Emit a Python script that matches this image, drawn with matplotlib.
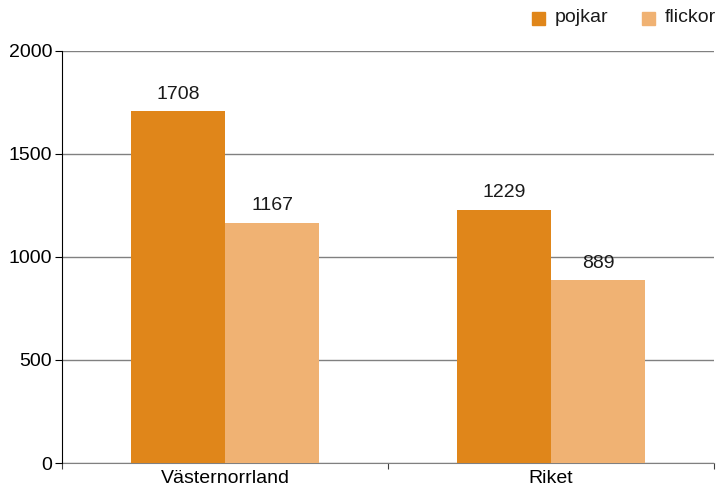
import matplotlib
matplotlib.use("Agg")
import matplotlib.pyplot as plt
import numpy as np
from matplotlib.patches import Rectangle

plt.rcParams['font.family'] = ['Liberation Sans', 'DejaVu Sans']

categories = ["Västernorrland", "Riket"]
series_names = ["pojkar", "flickor"]
pojkar = [1708, 1229]
flickor = [1167, 889]
colors = ["#E0861A", "#F0B273"]
yticks = [0, 500, 1000, 1500, 2000]

FS = 14
fig = plt.figure(figsize=(7.18, 4.88), dpi=100)
ax = fig.add_axes([62/718, 1 - 463/488, (714 - 62)/718, (463 - 51)/488])

x = np.arange(len(categories))
w = 0.289
for i, (vals, col) in enumerate(zip([pojkar, flickor], colors)):
    pos = x + (i - 0.5) * w
    ax.bar(pos, vals, width=w, color=col, zorder=3)
    for p, v in zip(pos, vals):
        ax.annotate(str(v), (p, v), xytext=(0, 6), textcoords='offset points',
                    ha='center', va='bottom', fontsize=FS, color='#1a1a1a')

ax.set_xlim(-0.5, 1.5)
ax.set_ylim(0, 2000)
ax.set_yticks(yticks)
ax.set_yticklabels([str(t) for t in yticks], fontsize=FS)
ax.yaxis.grid(True, color='#808080', linewidth=1, zorder=0)
ax.set_axisbelow(True)

ax.set_xticks([-0.5, 0.5, 1.5])
ax.set_xticklabels([])
ax.set_xticks(x, minor=True)
ax.set_xticklabels(categories, minor=True, fontsize=FS)
ax.tick_params(axis='x', which='minor', length=0, pad=5)
ax.tick_params(axis='x', which='major', length=4, color='#404040', direction='out')
ax.tick_params(axis='y', length=5, color='#000000', direction='out', pad=2)

for s in ['top', 'right']:
    ax.spines[s].set_visible(False)
ax.spines['left'].set_color('black')
ax.spines['bottom'].set_color('#808080')
ax.spines['left'].set_zorder(4)

# legend
for name, col, xs in zip(series_names, colors, [532, 642]):
    fig.patches.append(Rectangle((xs/718, 1 - 25/488), 13/718, 13/488,
                                 transform=fig.transFigure, color=col))
    fig.text((xs + 23)/718, 1 - 18/488, name, ha='left', va='center', fontsize=FS, color='#1a1a1a')

fig.savefig("out.png", dpi=100)
